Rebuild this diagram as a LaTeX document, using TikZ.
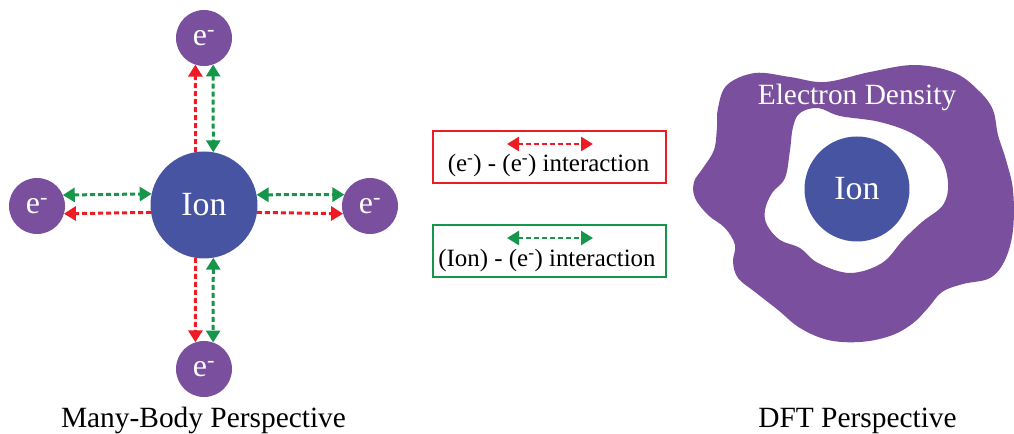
\documentclass[tikz,border=0pt]{standalone}
\usepackage{fontspec}
\setmainfont{Liberation Serif}
\usetikzlibrary{arrows.meta}
\definecolor{epurple}{HTML}{7A4F9D}
\definecolor{ionblue}{HTML}{4754A2}
\definecolor{eered}{HTML}{ED1C24}
\definecolor{iegreen}{HTML}{16964A}

\begin{document}
\begin{tikzpicture}[x=1bp,y=-1bp,
  electron/.style={circle, fill=epurple, minimum size=56bp, inner sep=0pt, outer sep=0pt,
    text=white, font=\fontsize{32}{34}\selectfont},
  ioncore/.style={circle, fill=ionblue, inner sep=0pt, outer sep=0pt,
    text=white, font=\fontsize{34}{36}\selectfont},
  tipshape/.tip={Triangle[length=12bp,width=14bp]},
  link/.style={line width=3bp, dash pattern=on 5bp off 3bp},
  eelink/.style={link, draw=eered, -tipshape},
  ielink/.style={link, draw=iegreen, tipshape-tipshape},
  legendbox/.style={line width=1.5bp, minimum width=233bp, minimum height=52bp, inner sep=0pt},
  legendtext/.style={anchor=base, font=\fontsize{25}{28}\selectfont},
  caption/.style={anchor=base, font=\fontsize{29.5}{32}\selectfont}
]
\useasboundingbox (0,0) rectangle (1014,434);

% ---------- many-body picture ----------
\node[ioncore, minimum size=107bp] (ion) at (204,205) {Ion};
\node[electron] (et) at (204,38)  {e\textsuperscript{-}};
\node[electron] (eb) at (204,369) {e\textsuperscript{-}};
\node[electron] (el) at (37,206)  {e\textsuperscript{-}};
\node[electron] (er) at (370,206) {e\textsuperscript{-}};

% electron-electron (red) and ion-electron (green) couplings
\draw[eelink] (ion.99.7)  -- (et.-108.7);
\draw[ielink] (et.-71.3)  -- (ion.80.3);
\draw[eelink] (ion.-99.7) -- (eb.108.7);
\draw[ielink] (ion.-80.3) -- (eb.71.3);
\draw[ielink] (el.23.1)   -- (ion.168.2);
\draw[eelink] (ion.188.6) -- (el.-16.6);
\draw[ielink] (ion.11.8)  -- (er.156.9);
\draw[eelink] (ion.-8.6)  -- (er.196.6);

\node[caption] (mbcap) at (203.5,427) {Many-Body Perspective};

% ---------- legend ----------
\node[legendbox, draw=eered] (eebox) at (549.5,157) {};
\coordinate (eeL) at (507,144);
\coordinate (eeR) at (593,144);
\draw[link, line width=2.7bp, draw=eered, tipshape-tipshape] (eeL) -- (eeR);
\node[legendtext] (eetxt) at (548.5,172) {(e\textsuperscript{-}) - (e\textsuperscript{-}) interaction};

\node[legendbox, draw=iegreen] (iebox) at (549.5,251) {};
\coordinate (ieL) at (507,238);
\coordinate (ieR) at (593,238);
\draw[link, line width=2.7bp, draw=iegreen, tipshape-tipshape] (ieL) -- (ieR);
\node[legendtext] (ietxt) at (547,267) {(Ion) - (e\textsuperscript{-}) interaction};

% ---------- DFT picture: electron density cloud with a hole round the ion ----------
\fill[epurple, even odd rule]
  plot[smooth cycle, tension=0.6] coordinates {
    (727,85) (755,73) (790,77) (825,82) (870,72) (915,65) (955,73) (980,92)
    (993,110) (998,135) (1006,160) (1013,190) (1013,230) (1005,260) (990,278)
    (963,284) (942,292) (928,308) (912,324) (890,336) (860,342) (828,340)
    (800,328) (778,310) (755,292) (738,278) (733,262) (735,245) (725,228)
    (708,215) (695,198) (694,182) (703,168) (714,150) (717,127) (718,108)}
  plot[smooth cycle, tension=0.6] coordinates {
    (800,113) (818,108) (840,116) (880,122) (915,135) (940,157) (948,183)
    (943,205) (922,222) (903,240) (882,263) (850,273) (818,263) (800,248)
    (780,240) (767,225) (765,210) (772,193) (785,178) (790,150) (793,127)};

\node[ioncore, minimum size=105bp] (ionr) at (857,189) {Ion};
\node[caption, text=white] (dens) at (857,105) {Electron Density};
\node[caption] (dftcap) at (857.5,427) {DFT Perspective};
\end{tikzpicture}
\end{document}
